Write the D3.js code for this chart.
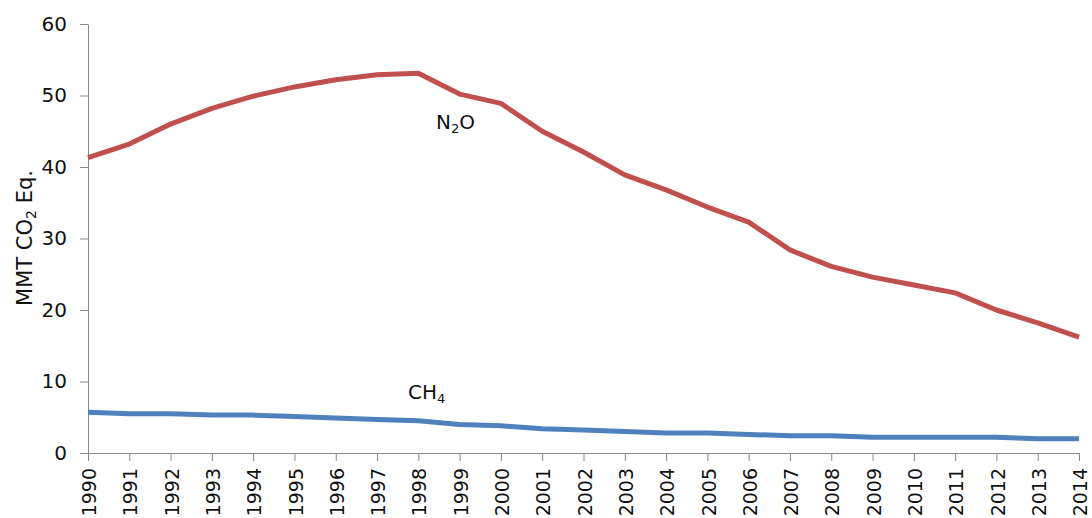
<!DOCTYPE html>
<html>
<head>
<meta charset="utf-8">
<script src="https://cdn.jsdelivr.net/npm/d3@7"></script>
<style>
  html, body { margin: 0; padding: 0; background: #fff; }
  svg { display: block; }
  text { font-family: "DejaVu Sans", Verdana, sans-serif; fill: #111; }
</style>
</head>
<body>
<svg id="chart" width="1092" height="518"></svg>
<script>
const years = [1990,1991,1992,1993,1994,1995,1996,1997,1998,1999,2000,2001,2002,2003,2004,2005,2006,2007,2008,2009,2010,2011,2012,2013,2014];
const n2o = [41.3,43.2,46.0,48.2,49.9,51.2,52.2,52.9,53.1,50.2,48.9,45.0,42.1,38.9,36.8,34.4,32.3,28.4,26.1,24.6,23.5,22.4,20.0,18.2,16.2];
const ch4 = [5.7,5.5,5.5,5.3,5.3,5.1,4.9,4.7,4.5,4.0,3.8,3.4,3.2,3.0,2.8,2.8,2.6,2.4,2.4,2.2,2.2,2.2,2.2,2.0,2.0];
const yTicks = [0,10,20,30,40,50,60];

const svg = d3.select("#chart");
const x = d3.scaleLinear().domain([1990, 2014]).range([88, 1079]);
const y = d3.scaleLinear().domain([0, 60]).range([453, 24]);
const axisColor = "#898989";

// Y axis
const yAxis = svg.append("g").attr("transform", "translate(88,0)")
  .call(d3.axisLeft(y).tickValues(yTicks).tickSize(8).tickPadding(13).tickSizeOuter(0));
yAxis.select(".domain").attr("stroke", axisColor);
yAxis.selectAll(".tick line").attr("stroke", axisColor);
yAxis.selectAll(".tick text").attr("font-size", "20px").attr("font-family", "DejaVu Sans").attr("fill", "#111");

// X axis
const xAxis = svg.append("g").attr("transform", "translate(0,453)")
  .call(d3.axisBottom(x).tickValues(years).tickFormat(d3.format("d")).tickSize(8).tickSizeOuter(0));
xAxis.select(".domain").attr("stroke", axisColor);
xAxis.selectAll(".tick line").attr("stroke", axisColor);
xAxis.selectAll(".tick text")
  .attr("font-size", "19px").attr("font-family", "DejaVu Sans").attr("fill", "#111")
  .attr("text-anchor", "end")
  .attr("transform", "rotate(-90)")
  .attr("x", -15).attr("y", 1).attr("dy", "0.35em");

// Lines
const line = d3.line().x((d, i) => x(years[i])).y(d => y(d));
svg.append("path").datum(n2o).attr("d", line)
  .attr("fill", "none").attr("stroke", "#C0504D").attr("stroke-width", 5)
  .attr("stroke-linejoin", "round").attr("stroke-linecap", "butt");
svg.append("path").datum(ch4).attr("d", line)
  .attr("fill", "none").attr("stroke", "#4F81BD").attr("stroke-width", 5)
  .attr("stroke-linejoin", "round").attr("stroke-linecap", "butt");

// Series labels
const lN = svg.append("text").attr("x", 436).attr("y", 129).attr("font-size", "20px");
lN.append("tspan").text("N");
lN.append("tspan").attr("font-size", "13px").attr("dy", 4).text("2");
lN.append("tspan").attr("dy", -4).text("O");

const lC = svg.append("text").attr("x", 408).attr("y", 399).attr("font-size", "20px");
lC.append("tspan").text("CH");
lC.append("tspan").attr("font-size", "13px").attr("dy", 4).text("4");

// Y axis title
const yt = svg.append("text")
  .attr("transform", "translate(32,238) rotate(-90)")
  .attr("text-anchor", "middle")
  .attr("font-family", "Liberation Sans, Arial, sans-serif")
  .attr("font-size", "21px");
yt.append("tspan").text("MMT CO");
yt.append("tspan").attr("font-size", "14px").attr("dy", 4).text("2");
yt.append("tspan").attr("dy", -4).text(" Eq.");
</script>
</body>
</html>
